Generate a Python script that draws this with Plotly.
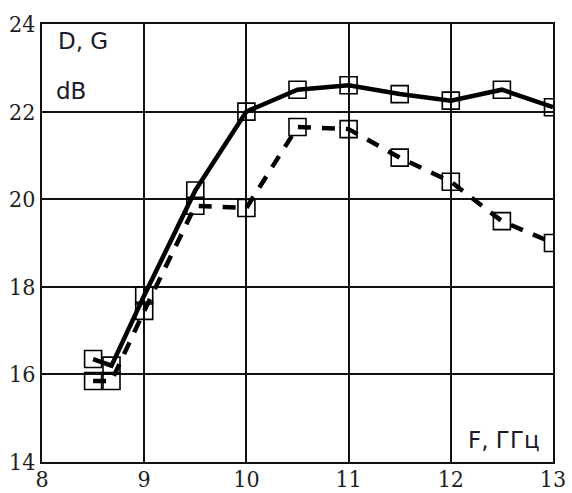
import plotly.graph_objects as go

# Frequency points, GHz
freq = [8.5, 8.68, 9.0, 9.5, 10.0, 10.5, 11.0, 11.5, 12.0, 12.5, 13.0]
# Directivity D, dB (solid)
d_db = [16.35, 16.2, 17.8, 20.2, 22.0, 22.5, 22.6, 22.4, 22.25, 22.5, 22.1]
# Gain G, dB (dashed)
g_db = [15.85, 15.85, 17.45, 19.85, 19.8, 21.65, 21.6, 20.95, 20.4, 19.5, 19.0]

x_ticks = [8, 9, 10, 11, 12, 13]
y_ticks = [14, 16, 18, 20, 22, 24]

marker_style = dict(symbol="square-open", size=17, color="black",
                    line=dict(width=1.6, color="black"))

fig = go.Figure()
fig.add_trace(go.Scatter(
    x=freq, y=d_db, mode="lines+markers",
    line=dict(color="black", width=4.5),
    marker=marker_style, showlegend=False))
fig.add_trace(go.Scatter(
    x=freq, y=g_db, mode="lines+markers",
    line=dict(color="black", width=4.5, dash="13px,11px"),
    marker=marker_style, showlegend=False))

axis_common = dict(
    showgrid=True, gridcolor="#111", gridwidth=1.8,
    showline=True, linecolor="#111", linewidth=2, mirror=True,
    zeroline=False, ticks="", automargin=False,
)
serif_ticks = dict(family="DejaVu Serif Condensed, DejaVu Serif, serif",
                   size=23, color="#1e1e1e")

fig.update_xaxes(range=[8, 13], tickvals=x_ticks,
                 ticktext=[str(v) for v in x_ticks],
                 ticklabelstandoff=-5, tickfont=serif_ticks, **axis_common)
fig.update_yaxes(range=[14, 24], tickvals=y_ticks,
                 ticktext=[str(v) for v in y_ticks],
                 ticklabelstandoff=0, tickfont=serif_ticks, **axis_common)

label_font = dict(family="DejaVu Sans", size=23, color="#1a1a2a")
fig.add_annotation(x=0.028, y=0.962, xref="paper", yref="paper",
                   text="D, G", showarrow=False, xanchor="left", yanchor="middle",
                   font=label_font)
fig.add_annotation(x=0.024, y=0.848, xref="paper", yref="paper",
                   text="dB", showarrow=False, xanchor="left", yanchor="middle",
                   font=label_font)
fig.add_annotation(x=0.978, y=0.05, xref="paper", yref="paper",
                   text="F, ГГц", showarrow=False, xanchor="right", yanchor="middle",
                   font=label_font)

fig.update_layout(
    width=572, height=493,
    margin=dict(l=42, r=19, t=24, b=31),
    paper_bgcolor="white", plot_bgcolor="white",
)

fig.write_html("out.html")
